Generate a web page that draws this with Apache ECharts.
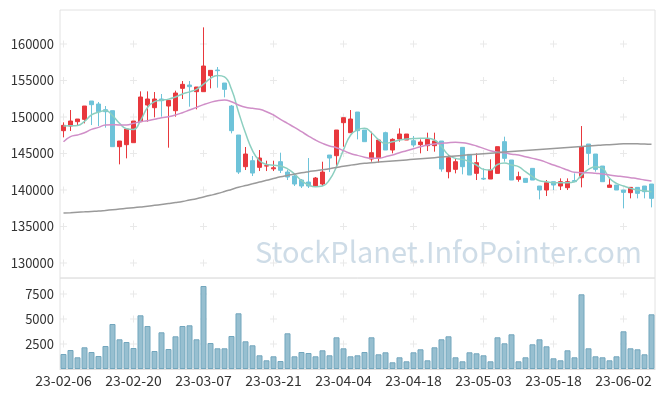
<!DOCTYPE html>
<html><head><meta charset="utf-8">
<script src="https://cdn.jsdelivr.net/npm/echarts@6/dist/echarts.min.js"></script>
<style>html,body{margin:0;padding:0;background:#fff}#c{width:665px;height:396px}</style>
</head><body><div id="c"></div>
<script>
const dates = [
'23-02-06','23-02-07','23-02-08','23-02-09','23-02-10','23-02-13','23-02-14','23-02-15','23-02-16','23-02-17',
'23-02-20','23-02-21','23-02-22','23-02-23','23-02-24','23-02-27','23-02-28','23-03-02','23-03-03','23-03-06',
'23-03-07','23-03-08','23-03-09','23-03-10','23-03-13','23-03-14','23-03-15','23-03-16','23-03-17','23-03-20',
'23-03-21','23-03-22','23-03-23','23-03-24','23-03-27','23-03-28','23-03-29','23-03-30','23-03-31','23-04-03',
'23-04-04','23-04-05','23-04-06','23-04-07','23-04-10','23-04-11','23-04-12','23-04-13','23-04-14','23-04-17',
'23-04-18','23-04-19','23-04-20','23-04-21','23-04-24','23-04-25','23-04-26','23-04-27','23-04-28','23-05-02',
'23-05-03','23-05-04','23-05-08','23-05-09','23-05-10','23-05-11','23-05-12','23-05-15','23-05-16','23-05-17',
'23-05-18','23-05-19','23-05-22','23-05-23','23-05-24','23-05-25','23-05-26','23-05-30','23-05-31','23-06-01',
'23-06-02','23-06-05','23-06-07','23-06-08','23-06-09'];

// [open, close, low, high]
const candles = [
[148129,148859,147216,149271],[148768,149453,148083,150960],[149362,149727,148768,149727],[149681,151508,149133,151508],
[152193,151690,148905,152193],[151782,150731,148768,152056],[151005,150731,148540,151508],[150868,145937,145937,150868],
[145937,146713,143517,146713],[146211,148357,144339,148357],[146485,149453,146485,149453],[149362,152741,149362,153517],
[151645,152467,149362,153517],[151279,152467,149955,153425],[152467,152238,150047,153151],[151508,152284,145800,152284],
[150868,153288,150047,153608],[153928,154476,152467,154932],[154384,154156,151416,154932],[153471,154110,151051,154110],
[153471,156987,153471,162283],[155663,156393,153928,156393],[156439,156348,154019,156850],[154658,153791,152695,154658],
[151508,148129,147764,151645],[147535,142466,142200,147535],[143198,144933,142740,145892],[144019,142327,141916,144656],
[143106,144385,142600,145481],[143286,143335,142600,144019],[142900,143050,142600,144019],[143883,142700,142327,145115],
[142466,141781,141370,142740],[141918,140822,140548,142055],[141370,140548,140274,141507],[141096,140548,140274,144382],
[140548,141644,140411,141781],[140822,142466,140548,143877],[144793,144382,142466,144793],[144704,148220,143198,148220],
[149225,149910,145937,149910],[147855,149727,147855,150960],[150685,148129,146941,150685],[148220,146622,146622,148220],
[144247,145115,143882,147991],[144430,146850,143745,146850],[147855,145480,145480,147991],[145480,146941,145024,147078],
[146987,147672,146622,148448],[146850,147672,146850,147672],[146759,146165,145846,147398],[146211,146576,145024,146941],
[146074,146941,145343,147855],[146074,146713,145252,147855],[146713,142878,142512,146713],[142512,144430,141599,144795],
[142832,143882,142284,144339],[145846,143197,142147,145846],[144887,142056,142056,144887],[142284,143745,141371,145024],
[141599,141500,141371,142969],[141508,142741,141508,144202],[142284,145937,142284,145937],[146622,144339,143882,147307],
[144110,141371,141371,144110],[141461,141826,141141,142511],[141598,141050,141050,141598],[142968,141369,141369,142968],
[140548,140000,138721,140548],[140000,141004,139178,141369],[141141,140685,140000,141141],[140548,141141,140000,141598],
[140319,141141,140000,141598],[141300,141141,141141,142283],[141689,145935,140365,148766],[146301,145022,143424,146301],
[144931,142831,142511,144931],[143287,141141,141141,143287],[140365,140685,140365,141598],[140685,140000,140000,140685],
[140000,139680,137488,140000],[139634,140365,138858,140365],[140365,139543,138858,140365],[140548,139771,138858,140548],
[140821,138858,137625,140821]];

const ma5 = [148770,148790,148850,149400,150300,150650,150900,150200,149150,148400,
148300,149500,151300,152100,152300,152450,152750,153150,153450,153800,
154500,155300,155700,155500,153800,150700,147800,145400,144000,143500,
143400,143300,142900,142200,141300,140700,140450,140550,141400,143200,
145500,147500,148250,148450,147850,146900,146400,146600,146850,147000,
147050,147080,147080,146850,145950,144800,144340,144200,143880,143430,
142830,142740,143500,143700,143420,143200,142510,141830,141280,141140,
141000,141000,141000,141140,142050,142830,143200,142970,141600,140910,
140550,140230,140000,139910,139770];

const ma20 = [146622,147307,147535,147855,148311,148585,148905,148951,148905,148905,
149133,149362,149499,149681,149910,150047,150275,150595,150960,151325,
151700,152010,152238,152330,152101,151645,151325,151188,151051,150731,
150275,149681,149133,148585,147992,147398,146850,146394,146029,145801,
145400,145000,144750,144500,144339,144339,144567,144795,145115,145389,
145663,145937,146165,146302,146393,146485,146530,146485,146302,146028,
145708,145389,145161,145100,144900,144794,144566,144337,144109,143790,
143424,143105,142739,142420,142374,142374,142283,142191,142054,141917,
141826,141689,141552,141369,141232];

const ma60 = [136847,136902,136957,137011,137066,137114,137203,137299,137395,137491,
137587,137683,137779,137902,138025,138149,138285,138436,138628,138820,
139039,139272,139519,139793,140081,140369,140616,140849,141094,141327,
141574,141807,141998,142190,142368,142519,142656,142765,142930,143094,
143259,143410,143547,143670,143746,143823,143900,143977,144053,144130,
144207,144283,144360,144437,144514,144590,144667,144744,144820,144897,
144974,145050,145127,145204,145273,145341,145410,145478,145547,145615,
145684,145752,145821,145889,145958,146026,146095,146163,146218,146273,
146327,146355,146327,146300,146259];

const volume = [1500,1900,1170,2170,1700,1300,2300,4500,2970,2700,
2100,5370,4300,1800,3670,2000,3270,4300,4370,2970,
8300,2600,2070,2070,3300,5570,2770,2370,1370,870,
1270,800,3570,1270,1700,1600,1270,1870,1370,3170,
2070,1270,1370,1700,3170,1470,1670,670,1170,770,
1670,1970,870,2170,2970,3270,1170,770,1670,1570,
1370,770,3170,2570,3470,770,1170,2470,2970,2270,
1070,870,1870,1170,7470,2070,1270,1170,870,1270,
3770,2070,1970,1470,5470];

const priceTicks = [130000,135000,140000,145000,150000,155000,160000];
const volumeTicks = [2500,5000,7500];
const labelIdx = [0,10,20,30,40,50,60,70,80];
const watermark = 'StockPlanet.InfoPointer.com';

const crossMain = [], crossVol = [];
labelIdx.forEach(i => {
  priceTicks.forEach(v => crossMain.push([i, v]));
  volumeTicks.forEach(v => crossVol.push([i, v]));
});

const FONT = 'Noto Sans CJK KR';
const plus = 'path://M3,0h1v3h3v1h-3v3h-1v-3h-3v-1h3z';
const chart = echarts.init(document.getElementById('c'));
chart.setOption({
  animation: false,
  textStyle: {fontFamily: FONT},
  graphic: [{
    type: 'text', left: 255, top: 237, z: 0, silent: true,
    style: {text: watermark, fontSize: 29, fontFamily: FONT, fill: 'rgba(165,192,212,0.55)'}
  }],
  grid: [
    {left: 60, top: 10, width: 595, height: 268, show: true, borderColor: '#e2e2e2', borderWidth: 1},
    {left: 60, top: 278, width: 595, height: 91, show: true, borderColor: '#e2e2e2', borderWidth: 1}
  ],
  xAxis: [
    {type: 'category', gridIndex: 0, data: dates, boundaryGap: true,
     axisLine: {show: false}, axisTick: {show: false}, axisLabel: {show: false}, splitLine: {show: false}},
    {type: 'category', gridIndex: 1, data: dates, boundaryGap: true,
     axisLine: {show: true, lineStyle: {color: '#dcdcdc'}}, axisTick: {show: false}, splitLine: {show: false},
     axisLabel: {interval: 9, color: '#333', fontSize: 14, margin: 5, fontFamily: FONT}}
  ],
  yAxis: [
    {type: 'value', gridIndex: 0, min: 127950, max: 164660, splitNumber: 8,
     axisLine: {show: false}, axisTick: {show: false}, splitLine: {show: false},
     axisLabel: {color: '#333', fontSize: 13, margin: 6, fontFamily: FONT,
       formatter: v => (priceTicks.indexOf(v) >= 0 ? String(v) : '')}},
    {type: 'value', gridIndex: 1, min: 0, max: 9100, interval: 2500,
     axisLine: {show: false}, axisTick: {show: false}, splitLine: {show: false},
     axisLabel: {color: '#333', fontSize: 13, margin: 6, fontFamily: FONT,
       formatter: v => (volumeTicks.indexOf(v) >= 0 ? String(v) : '')}}
  ],
  series: [
    {type: 'scatter', xAxisIndex: 0, yAxisIndex: 0, data: crossMain, symbol: plus, symbolSize: 7,
     itemStyle: {color: '#e3e3e3'}, silent: true, z: 1},
    {type: 'scatter', xAxisIndex: 1, yAxisIndex: 1, data: crossVol, symbol: plus, symbolSize: 7,
     itemStyle: {color: '#e3e3e3'}, silent: true, z: 1},
    {type: 'candlestick', xAxisIndex: 0, yAxisIndex: 0, data: candles, barWidth: 5, z: 2,
     itemStyle: {color: '#e8383d', color0: '#6ec3d9', borderColor: '#e8383d', borderColor0: '#6ec3d9', borderWidth: 1}},
    {type: 'line', xAxisIndex: 0, yAxisIndex: 0, data: ma5, smooth: true, showSymbol: false, z: 3,
     lineStyle: {color: '#8ccfc0', width: 1.5}},
    {type: 'line', xAxisIndex: 0, yAxisIndex: 0, data: ma20, smooth: true, showSymbol: false, z: 3,
     lineStyle: {color: '#d08fc8', width: 1.5}},
    {type: 'line', xAxisIndex: 0, yAxisIndex: 0, data: ma60, smooth: true, showSymbol: false, z: 3,
     lineStyle: {color: '#9a9a9a', width: 1.5}},
    {type: 'bar', xAxisIndex: 1, yAxisIndex: 1, data: volume, barCategoryGap: '14%', z: 2,
     itemStyle: {color: '#97bfd0', borderColor: '#72a6bd', borderWidth: 1}}
  ]
});
</script></body></html>
